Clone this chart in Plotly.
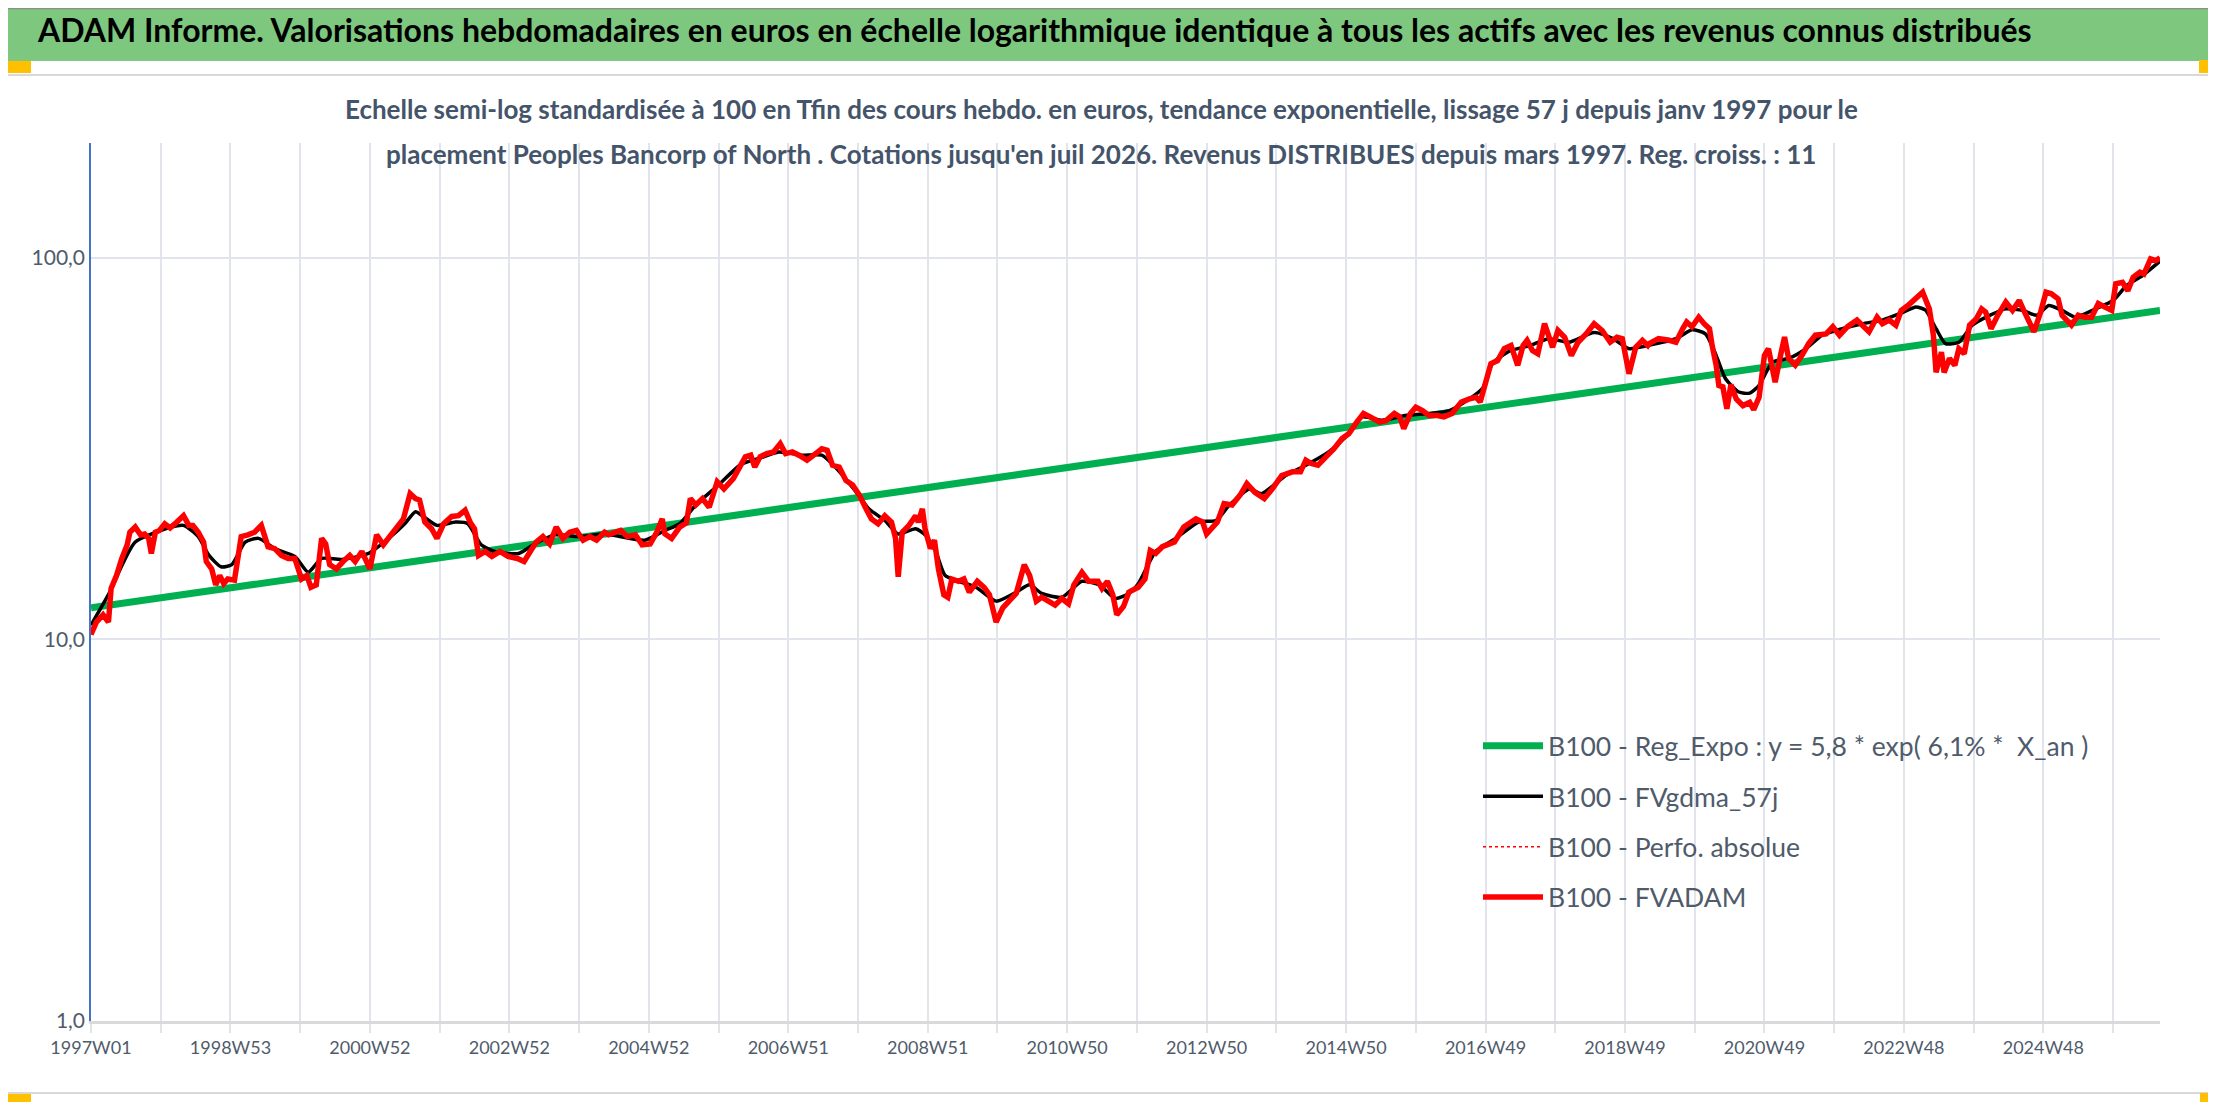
import plotly.graph_objects as go

W, H = 2216, 1102
PL, PR, PT, PB = 83, 2152, 135, 1013  # plot area in pixels

FONT = "Lato, Carlito, Calibri, sans-serif"

# ---------------- data ----------------
tick_labels = ["1997W01", "1998W53", "2000W52", "2002W52", "2004W52", "2006W51",
               "2008W51", "2010W50", "2012W50", "2014W50", "2016W49", "2018W49",
               "2020W49", "2022W48", "2024W48"]
last_week = 1543
y_ticks = [1, 10, 100]
y_ticktext = ["1,0", "10,0", "100,0"]

fvadam_weeks = [0, 4, 9, 13, 15, 19, 23, 27, 29, 33, 37, 40, 43, 45, 48, 51, 55, 59, 64, 69,
                73, 76, 80, 84, 86, 90, 93, 96, 99, 102, 107, 112, 117, 122, 127, 132, 137, 142, 147, 152,
                157, 161, 164, 168, 172, 175, 178, 183, 188, 193, 197, 202, 208, 213, 218, 223, 228, 233, 238, 242,
                245, 249, 254, 258, 263, 269, 274, 279, 283, 286, 289, 294, 299, 305, 311, 318, 323, 327, 332, 337,
                342, 347, 352, 357, 362, 367, 372, 377, 383,
                386, 395, 400, 406, 411, 417, 422, 426, 428, 433, 439, 444, 447, 451, 456, 461, 467, 472, 479, 484,
                488, 492, 495, 499, 504, 509, 514, 518, 523, 528, 534, 539, 545, 549, 553, 558, 563, 568, 573, 578,
                582, 587, 592, 597, 600, 602, 605, 610, 615, 617, 620, 622, 626, 629, 632, 636, 639, 642, 647, 651,
                655, 661, 666, 670, 675, 680, 685, 690, 696, 700, 705, 709, 714, 719, 724, 729, 733, 739, 744, 751,
                754, 758, 762, 765, 770, 774,
                781, 786, 790, 794, 799, 804, 808, 815, 824, 829, 832, 840, 845, 851, 857, 862, 868, 875, 881, 888,
                896, 902, 906, 910, 915, 921, 927, 933, 938, 944, 949, 954, 961, 966, 972, 976, 979, 984, 988, 993,
                998, 1004, 1009, 1015, 1022, 1028, 1033, 1036, 1040, 1044, 1049, 1054, 1059, 1064, 1068, 1071, 1075, 1079, 1084, 1087,
                1090, 1094, 1099, 1104, 1109, 1115, 1121, 1127, 1133, 1138, 1142, 1147, 1152, 1157, 1161,
                1162, 1169, 1177, 1182, 1187, 1190, 1194, 1199, 1203, 1207, 1209, 1212, 1214, 1217, 1220, 1223, 1227, 1232, 1237, 1240,
                1244, 1248, 1251, 1254, 1256, 1260, 1263, 1266, 1271, 1276, 1281, 1286, 1294, 1299, 1304, 1310, 1317, 1326, 1332, 1336,
                1341, 1346, 1350, 1355, 1361, 1366, 1371, 1374, 1376, 1380, 1382, 1386, 1390, 1393, 1397, 1401, 1406, 1410, 1413, 1417,
                1422, 1428, 1433, 1438, 1442, 1446, 1449, 1454, 1458, 1462, 1467, 1470, 1477, 1482, 1487, 1492, 1497, 1502, 1507, 1510,
                1515, 1519, 1523, 1528, 1531, 1536, 1540, 1543]
fvadam_vals = [10.3, 11.1, 11.6, 11.1, 13.6, 14.7, 16.3, 17.7, 19.1, 19.7, 18.8, 18.9, 18.4, 16.8, 19.1, 19.3, 20.1, 19.6, 20.3, 21.1,
               19.9, 19.9, 19.1, 18.0, 16.0, 15.3, 13.9, 14.7, 14.0, 14.4, 14.3, 18.6, 18.8, 19.1, 19.9, 17.5, 17.3, 16.6, 16.3, 16.3,
               14.4, 14.7, 13.7, 13.9, 18.4, 17.8, 15.7, 15.3, 16.0, 16.6, 16.0, 17.0, 15.3, 18.8, 17.7, 18.6, 19.5, 20.7, 24.1, 23.4,
               23.2, 20.3, 19.5, 18.4, 20.1, 21.0, 21.1, 21.8, 20.2, 19.5, 16.6, 17.0, 16.5, 17.0, 16.5, 16.3, 16.0, 16.8, 18.0, 18.6,
               17.8, 19.7, 18.4, 19.1, 19.3, 18.2, 18.6, 18.2, 19.1,
               18.8, 19.3, 18.6, 18.8, 17.7, 17.8, 19.1, 20.7, 18.9, 18.4, 19.7, 20.2, 23.4, 22.5, 23.4, 22.2, 25.9, 24.8, 26.4, 28.3,
               30.1, 30.4, 28.3, 30.1, 30.7, 31.0, 32.6, 30.7, 31.0, 30.4, 29.5, 30.4, 31.6, 31.3, 28.6, 28.3, 26.1, 25.4, 23.9, 22.0,
               20.7, 20.1, 21.1, 20.3, 18.4, 14.6, 19.1, 19.9, 21.1, 20.3, 22.0, 19.5, 17.3, 18.2, 15.3, 13.1, 12.9, 14.4, 14.2, 14.4,
               13.3, 14.2, 13.7, 13.1, 11.1, 12.1, 12.7, 13.2, 15.7, 14.7, 12.6, 12.9, 12.6, 12.3, 12.8, 12.4, 13.9, 15.0, 14.2, 14.2,
               13.6, 14.2, 13.1, 11.6, 12.2, 13.3,
               13.7, 14.4, 17.1, 16.8, 17.5, 17.7, 18.0, 19.7, 20.7, 20.3, 18.9, 20.3, 22.7, 22.5, 23.9, 25.6, 24.3, 23.4, 24.8, 26.9,
               27.5, 27.5, 29.5, 28.9, 28.6, 30.1, 31.6, 33.6, 34.6, 37.1, 39.1, 38.3, 37.1, 37.5, 39.1, 38.3, 35.7, 39.1, 40.6, 39.8,
               38.6, 38.6, 38.3, 39.1, 41.9, 42.7, 43.1, 41.9, 47.3, 52.8, 53.8, 57.8, 58.9, 52.3, 58.9, 60.8, 57.2, 56.1, 67.2, 61.9,
               58.3, 64.5, 61.9, 55.5, 60.1, 63.2, 67.2, 64.5, 60.1, 61.9, 61.4, 49.7, 58.3, 60.8, 58.9,
               59.6, 61.4, 60.8, 60.1, 65.2, 67.9, 66.0, 69.9, 67.2, 65.2, 58.9, 52.3, 46.3, 45.9, 40.2, 46.5, 42.7, 41.0, 41.8, 40.0,
               43.1, 55.5, 57.8, 50.1, 47.2, 55.5, 62.0, 54.5, 52.3, 55.5, 59.6, 62.7, 63.2, 66.0, 62.7, 66.0, 68.7, 64.0, 69.9, 67.2,
               68.7, 66.6, 72.8, 75.0, 78.1, 81.3, 73.5, 62.7, 50.1, 56.6, 50.1, 54.5, 52.3, 57.8, 56.1, 66.6, 69.2, 73.5, 72.1, 65.2,
               70.7, 76.6, 72.8, 77.3, 72.1, 67.9, 64.0, 72.1, 81.3, 80.5, 78.1, 70.7, 66.6, 70.7, 69.9, 69.9, 75.9, 74.3, 72.8, 85.5,
               86.3, 82.0, 89.0, 91.7, 90.7, 99.4, 98.4, 100.0]

fvgdma_weeks = [0, 13, 33, 60, 69, 80, 88, 97, 105, 115, 125, 137, 152, 162, 172, 187, 207, 222, 234, 242,
                247, 258, 272, 281, 291, 301, 319, 331, 346, 364, 383,
                413, 428, 439, 451, 468, 485, 498, 513, 530, 545, 555, 570, 580, 592, 602, 615, 622, 630, 637,
                647, 660, 675, 690, 700, 709, 724, 739, 752, 764, 774,
                781, 794, 809, 826, 839, 849, 864, 873, 891, 906, 923, 936, 948, 963, 980, 998, 1013, 1028, 1038,
                1045, 1058, 1073, 1087, 1102, 1121, 1135, 1147, 1161,
                1182, 1194, 1204, 1212, 1219, 1229, 1237, 1244, 1254, 1266, 1279, 1291, 1306, 1321, 1336, 1351, 1361, 1368, 1376,
                1383, 1393, 1403, 1416, 1428, 1441, 1451, 1460, 1470, 1480, 1495, 1508, 1518, 1530, 1543]
fvgdma_vals = [10.9, 13.1, 18.0, 19.7, 19.9, 18.6, 16.6, 15.5, 15.7, 18.0, 18.4, 17.3, 16.5, 15.0, 16.3, 16.2, 16.8, 18.4, 20.1, 21.6,
               21.1, 19.9, 20.3, 20.1, 17.7, 17.0, 16.8, 17.8, 18.8, 18.6, 18.9,
               18.2, 19.3, 20.1, 22.5, 25.4, 28.8, 29.8, 31.0, 30.4, 30.4, 28.3, 24.5, 22.0, 20.5, 18.9, 19.5, 18.8, 17.0, 14.7,
               14.2, 13.7, 12.6, 13.3, 13.9, 13.2, 12.9, 14.2, 13.9, 12.8, 13.2,
               14.0, 17.0, 18.4, 20.3, 20.5, 22.5, 24.8, 24.1, 26.9, 28.6, 31.0, 34.0, 38.3, 37.5, 38.6, 39.1, 39.8, 42.7, 45.6,
               52.8, 57.0, 58.9, 61.4, 60.1, 63.7, 61.4, 57.8, 58.9,
               61.4, 64.8, 63.2, 55.5, 48.2, 44.5, 44.2, 46.3, 53.3, 54.5, 57.8, 62.7, 65.2, 67.2, 68.7, 71.9, 74.3, 73.0, 65.2,
               59.6, 60.1, 66.6, 70.7, 73.5, 72.8, 70.7, 75.0, 72.8, 69.9, 73.5, 77.3, 84.6, 89.9, 98.0]

trend_weeks = [0, last_week]
trend_vals = [12.1, 72.8]

names = ["B100 - Reg_Expo : y = 5,8 * exp( 6,1% *  X_an )",
         "B100 - FVgdma_57j",
         "B100 - Perfo. absolue",
         "B100 - FVADAM"]

title_text = ("ADAM Informe. Valorisations hebdomadaires en euros en échelle logarithmique "
              "identique à tous les actifs avec les revenus connus distribués")
sub1 = ("Echelle semi-log standardisée à 100 en Tfin des cours hebdo. en euros, tendance exponentielle, "
        "lissage 57 j depuis janv 1997 pour le")
sub2 = ("placement Peoples Bancorp of North . Cotations jusqu'en juil 2026. Revenus DISTRIBUES "
        "depuis mars 1997. Reg. croiss. : 11")


# ---------------- helpers: pixel -> paper ----------------
def fx(px):
    return (px - PL) / (PR - PL)


def fy(py):
    return (PB - py) / (PB - PT)


fig = go.Figure()
fig.add_trace(go.Scatter(x=trend_weeks, y=trend_vals, mode="lines", name=names[0],
                         line=dict(color="#00B050", width=7), legendgroup="a"))
fig.add_trace(go.Scatter(x=fvgdma_weeks, y=fvgdma_vals, mode="lines", name=names[1],
                         line=dict(color="#000000", width=3.5, shape="spline", smoothing=0.6), legendgroup="b"))
fig.add_trace(go.Scatter(x=fvadam_weeks, y=fvadam_vals, mode="lines", name=names[2],
                         line=dict(color="#FF0000", width=1.5, dash="dot"), legendgroup="c"))
fig.add_trace(go.Scatter(x=fvadam_weeks, y=fvadam_vals, mode="lines", name=names[3],
                         line=dict(color="#FF0000", width=5.5), legendgroup="d"))

grid_vals = list(range(0, last_week + 1, 52))
grid_text = [tick_labels[i // 2] if i % 2 == 0 and i // 2 < len(tick_labels) else "" for i in range(len(grid_vals))]

GRID = "#E1E5EB"
TXT = "#4F5B6B"

fig.update_layout(
    width=W, height=H,
    margin=dict(l=PL, r=W - PR, t=PT, b=H - PB),
    paper_bgcolor="white", plot_bgcolor="white",
    font=dict(family=FONT, color=TXT, size=20),
    showlegend=True,
    legend=dict(x=fx(1470), y=fy(714), xanchor="left", yanchor="top",
                bgcolor="rgba(0,0,0,0)", font=dict(size=26.5, color=TXT, family=FONT),
                tracegroupgap=13, itemwidth=60),
    xaxis=dict(range=[0, last_week], tickmode="array", tickvals=grid_vals, ticktext=grid_text,
               showgrid=True, gridcolor=GRID, gridwidth=1.5, zeroline=False,
               showline=True, linecolor="#D9D9D9", linewidth=2.5,
               ticks="outside", ticklen=9, tickcolor=GRID, tickwidth=1.5,
               tickfont=dict(size=18, color=TXT, family=FONT), tickangle=0),
    yaxis=dict(type="log", range=[0, 2.301], tickmode="array", tickvals=y_ticks, ticktext=y_ticktext,
               showgrid=True, gridcolor=GRID, gridwidth=1.5, zeroline=False,
               showline=True, linecolor="#4472C4", linewidth=1.5, ticks="",
               tickfont=dict(size=21, color=TXT, family=FONT)),
)

shapes = []
# green title band
shapes.append(dict(type="rect", xref="paper", yref="paper", x0=fx(0), x1=fx(W), y0=fy(53), y1=fy(0),
                   fillcolor="#7DC87E", line=dict(width=0), layer="below"))
shapes.append(dict(type="line", xref="paper", yref="paper", x0=fx(0), x1=fx(W), y0=fy(0.5), y1=fy(0.5),
                   line=dict(color="#8C8C8C", width=1.5)))
# chart frame lines
shapes.append(dict(type="line", xref="paper", yref="paper", x0=fx(0), x1=fx(2208), y0=fy(67), y1=fy(67),
                   line=dict(color="#D9D9D9", width=2)))
shapes.append(dict(type="line", xref="paper", yref="paper", x0=fx(0), x1=fx(2208), y0=fy(1085), y1=fy(1085),
                   line=dict(color="#D9D9D9", width=2)))
shapes.append(dict(type="line", xref="paper", yref="paper", x0=fx(2208), x1=fx(2208), y0=fy(67), y1=fy(1085),
                   line=dict(color="#D9D9D9", width=2)))
shapes.append(dict(type="line", xref="paper", yref="paper", x0=fx(0), x1=fx(W), y0=fy(1101), y1=fy(1101),
                   line=dict(color="#8C8C8C", width=1.5)))
# orange handles
for (x0, y0, x1, y1) in [(0, 53, 23, 65), (2191, 52, W, 65), (0, 1086, 23, 1101), (2192, 1085, W, 1101),
                         (2209, 1038, W, 1085), (2210, 65, W, 72)]:
    shapes.append(dict(type="rect", xref="paper", yref="paper", x0=fx(x0), x1=fx(x1), y0=fy(y1), y1=fy(y0),
                       fillcolor="#FFC000", line=dict(width=0)))
fig.update_layout(shapes=shapes)

fig.add_annotation(xref="paper", yref="paper", x=fx(1026), y=fy(21), text=title_text, showarrow=False,
                   xanchor="center", yanchor="middle",
                   font=dict(family=FONT, size=32, color="#000000", weight="bold"))
fig.add_annotation(xref="paper", yref="paper", x=fx(1093), y=fy(101), text=sub1, showarrow=False,
                   xanchor="center", yanchor="middle",
                   font=dict(family=FONT, size=26, color="#44546A", weight="bold"))
fig.add_annotation(xref="paper", yref="paper", x=fx(1093), y=fy(146), text=sub2, showarrow=False,
                   xanchor="center", yanchor="middle",
                   font=dict(family=FONT, size=26, color="#44546A", weight="bold"))

fig.write_html("out.html")
